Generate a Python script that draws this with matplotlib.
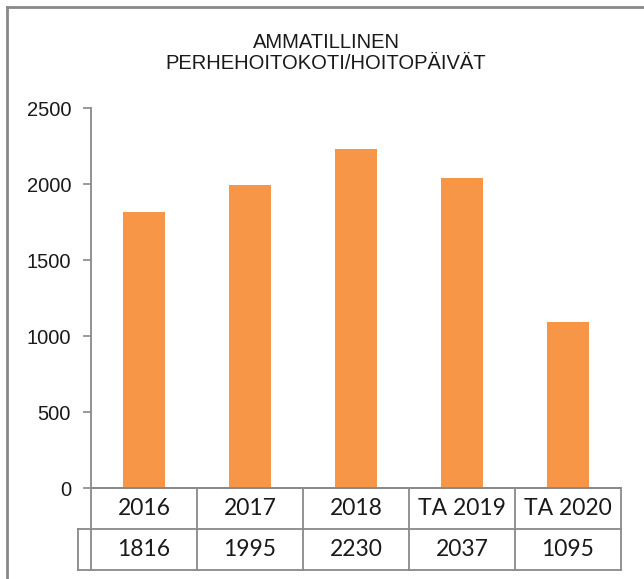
import matplotlib
matplotlib.use("Agg")
import matplotlib.pyplot as plt
from matplotlib.lines import Line2D

# Data
categories = ["2016", "2017", "2018", "TA 2019", "TA 2020"]
values = [1816, 1995, 2230, 2037, 1095]
y_ticks = [0, 500, 1000, 1500, 2000, 2500]
title = "AMMATILLINEN\nPERHEHOITOKOTI/HOITOPÄIVÄT"

W, H = 644, 579
BAR_COLOR = "#F79646"
LINE_COLOR = "#898989"
TEXT_COLOR = "#1a1a1a"

fig = plt.figure(figsize=(W / 100, H / 100), dpi=100)

# plot area in pixels
left_px, right_px, top_px, bottom_px = 91, 621, 108, 488
ax = fig.add_axes([left_px / W, 1 - bottom_px / H,
                   (right_px - left_px) / W, (bottom_px - top_px) / H])

x = list(range(len(categories)))
ax.bar(x, values, width=0.4, color=BAR_COLOR, zorder=2)
ax.set_xlim(-0.5, len(categories) - 0.5)
ax.set_ylim(0, 2500)
ax.set_yticks(y_ticks)
ax.set_yticklabels([str(t) for t in y_ticks], fontsize=14.5, family="Liberation Sans", color=TEXT_COLOR)
ax.tick_params(axis="y", direction="out", length=5.8, width=1.2, color=LINE_COLOR, pad=8.6)
ax.set_xticks([])
for side in ("top", "right"):
    ax.spines[side].set_visible(False)
ax.spines["left"].set_color(LINE_COLOR)
ax.spines["left"].set_linewidth(1.3)
ax.spines["bottom"].set_color(LINE_COLOR)
ax.spines["bottom"].set_linewidth(1.3)

fig.text(326 / W, 1 - 53 / H, title, ha="center", va="center",
         fontsize=14.5, family="Liberation Sans", color=TEXT_COLOR, linespacing=1.15)

# data table under the axis
ax_h = bottom_px - top_px
ax_w = right_px - left_px
row_h = 41 / ax_h
key_w = 13 / ax_w
n = len(categories)
kw = dict(transform=ax.transAxes, clip_on=False, color=LINE_COLOR, linewidth=1.3)

y0, y1, y2 = 0.0, -row_h, -2 * row_h
ax.add_line(Line2D([0, 1], [y0, y0], **kw))
ax.add_line(Line2D([-key_w, 1], [y1, y1], **kw))
ax.add_line(Line2D([-key_w, 1], [y2, y2], **kw))
ax.add_line(Line2D([-key_w, -key_w], [y1, y2], **kw))
for i in range(n + 1):
    xi = i / n
    ax.add_line(Line2D([xi, xi], [y0, y2], **kw))

for i, (cat, val) in enumerate(zip(categories, values)):
    xc = (i + 0.5) / n
    ax.text(xc, (y0 + y1) / 2, cat, transform=ax.transAxes, ha="center", va="center",
            fontsize=16.5, family="Lato", color=TEXT_COLOR)
    ax.text(xc, (y1 + y2) / 2, str(val), transform=ax.transAxes, ha="center", va="center",
            fontsize=16.5, family="Lato", color=TEXT_COLOR)

# outer chart frame (left and top visible)
fx, fy = 7 / W, 1 - 7 / H
fig.add_artist(Line2D([fx, fx], [0, fy], transform=fig.transFigure, color=LINE_COLOR, linewidth=2))
fig.add_artist(Line2D([fx, 1], [fy, fy], transform=fig.transFigure, color=LINE_COLOR, linewidth=2))

fig.savefig("out.png", dpi=100)
